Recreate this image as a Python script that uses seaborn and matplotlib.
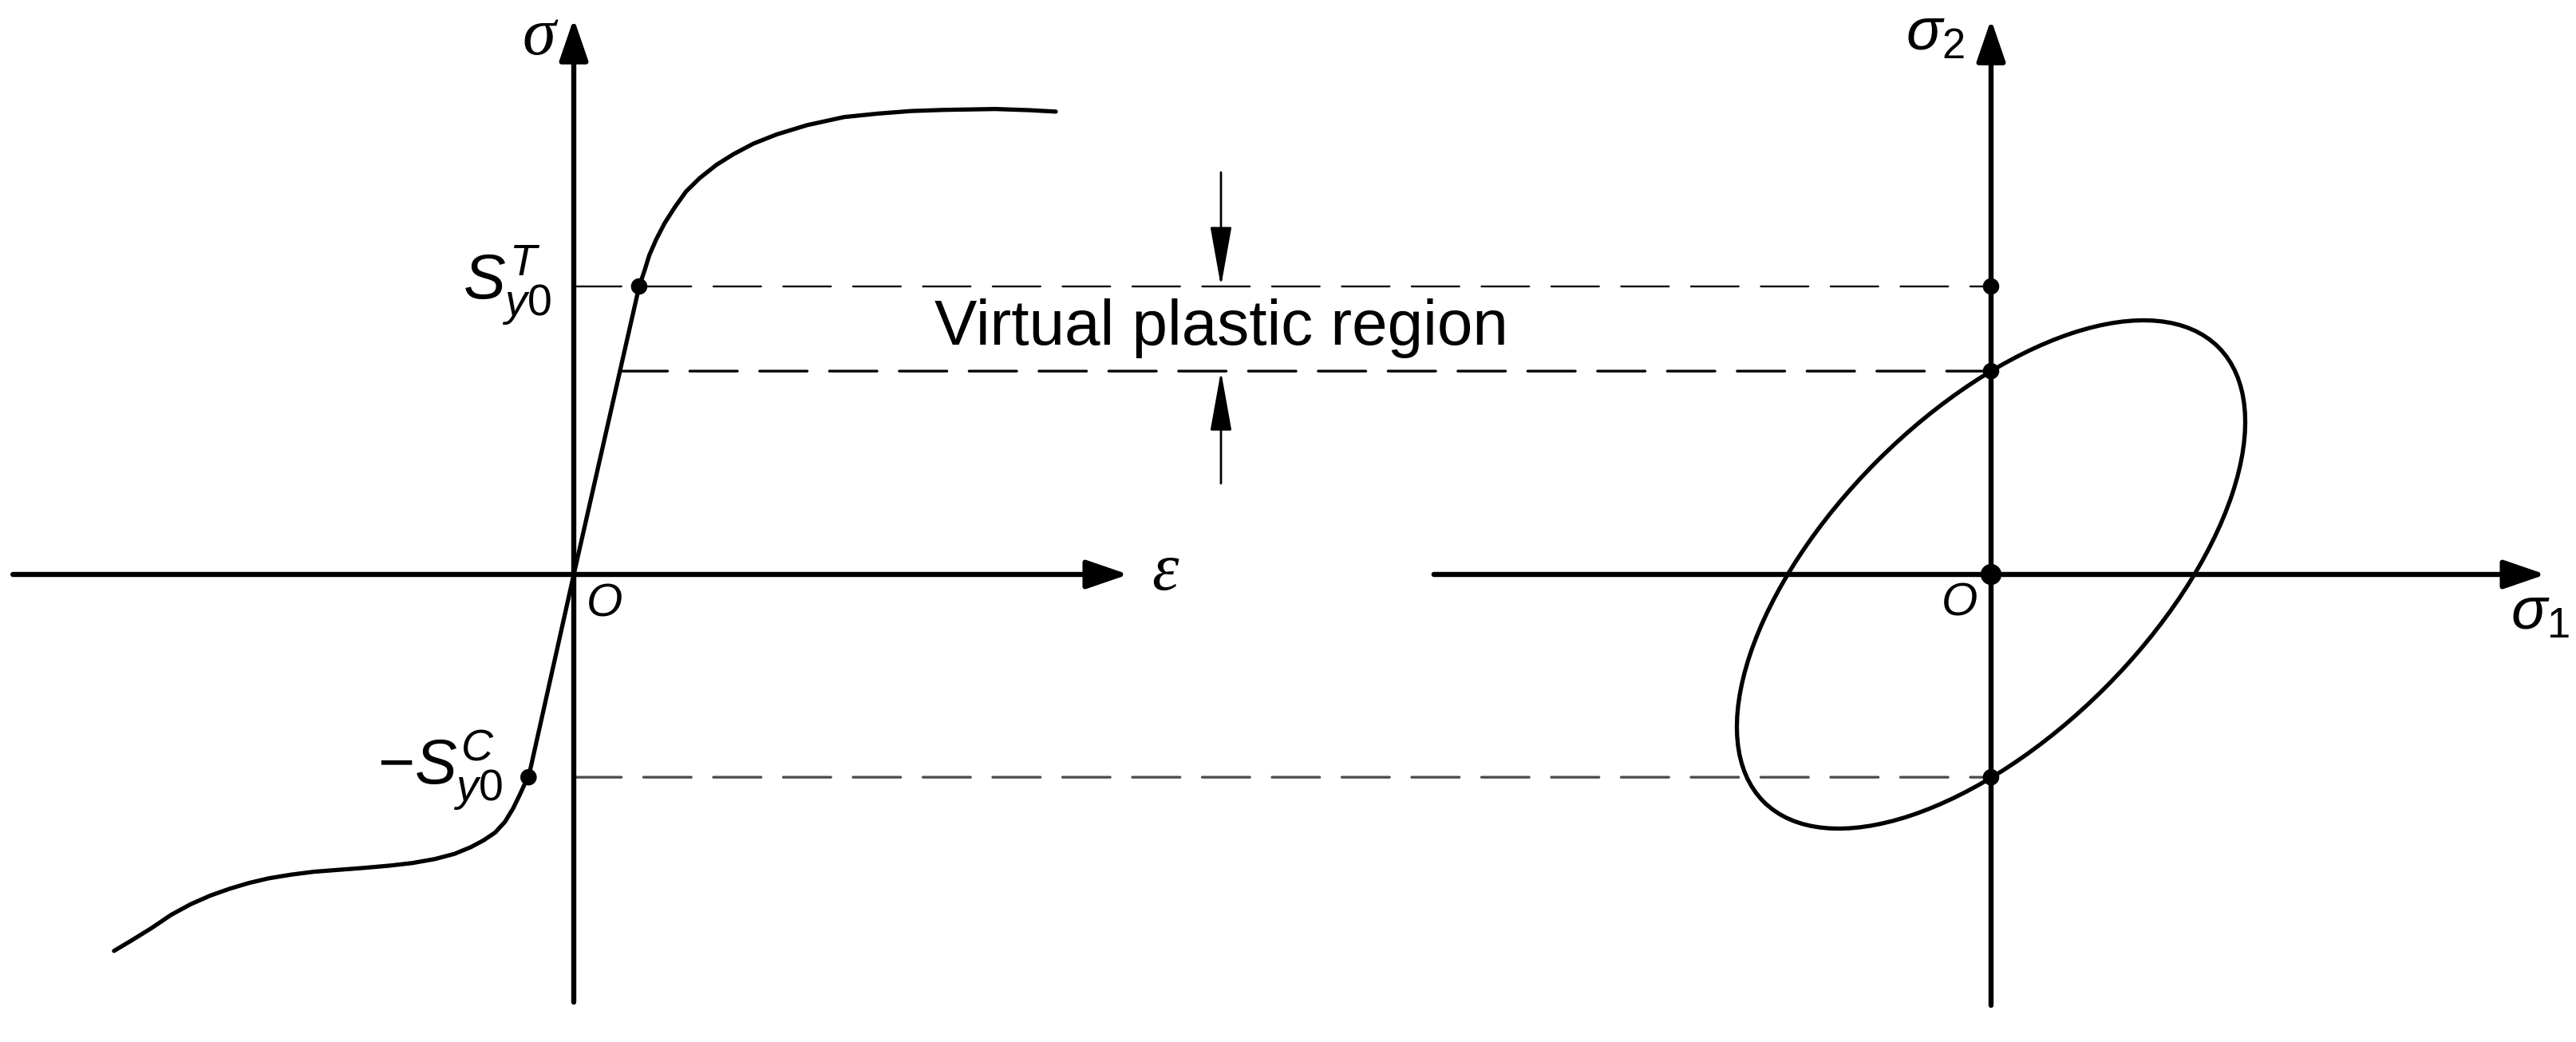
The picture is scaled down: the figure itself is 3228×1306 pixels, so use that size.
import matplotlib
matplotlib.use("Agg")
from matplotlib import pyplot as plt
from matplotlib.patches import Ellipse, ConnectionPatch
import seaborn as sns
import pandas as pd
import numpy as np

# jednotky: 1.0 = mez kluzu v tahu S_y0^T (stejne meritko na obou osach)

# tahova vetev krivky napeti-pretvoreni
eps_tension = [0.0, 0.227, 0.245, 0.262, 0.286, 0.315, 0.350, 0.390, 0.437,
               0.495, 0.554, 0.624, 0.705, 0.810, 0.938, 1.055, 1.171, 1.288,
               1.463, 1.580, 1.673]
sig_tension = [0.0, 1.000, 1.053, 1.108, 1.163, 1.219, 1.274, 1.330, 1.376,
               1.422, 1.459, 1.496, 1.528, 1.560, 1.588, 1.600, 1.609, 1.613,
               1.616, 1.612, 1.607]

# tlakova vetev
eps_compr = [0.0, -0.157, -0.171, -0.188, -0.211, -0.239, -0.273, -0.313,
             -0.358, -0.414, -0.482, -0.561, -0.640, -0.731, -0.810, -0.901,
             -0.980, -1.059, -1.127, -1.194, -1.262, -1.330, -1.398, -1.466,
             -1.534, -1.596]
sig_compr = [0.0, -0.704, -0.729, -0.766, -0.813, -0.859, -0.896, -0.923,
             -0.947, -0.970, -0.988, -1.002, -1.011, -1.019, -1.025, -1.032,
             -1.042, -1.055, -1.071, -1.091, -1.115, -1.145, -1.182, -1.228,
             -1.270, -1.307]

S_T = 1.0      # mez kluzu v tahu
S_C = 0.704    # mez kluzu v tlaku
S_V = 0.706    # virtualni mez (elipsa protina osu sigma2)

ellipse_semi = [1.116, 0.558]  # poloosy elipsy
ellipse_angle = 45

# ----- rozmery obrazku (px) -----
W, H, U = 3228, 1306, 361.0     # U = px na jednotku
split = 1700                    # hranice mezi levym a pravym grafem
oxL, oxR, oy = 719, 2495, 720   # pocatky souradnic

sns.set_style("white")
plt.rcParams["font.family"] = ["Liberation Sans", "DejaVu Sans"]
plt.rcParams["text.color"] = "black"
plt.rcParams["mathtext.fontset"] = "custom"
plt.rcParams["mathtext.rm"] = "Liberation Sans"
plt.rcParams["mathtext.it"] = "Liberation Sans:italic"
plt.rcParams["mathtext.bf"] = "Liberation Sans:bold"
plt.rcParams["lines.scale_dashes"] = False
plt.rcParams["lines.solid_capstyle"] = "round"
plt.rcParams["lines.solid_joinstyle"] = "round"

fig = plt.figure(figsize=(W / 100, H / 100), dpi=100)
axL = fig.add_axes([0, 0, split / W, 1])
axR = fig.add_axes([split / W, 0, (W - split) / W, 1])
axL.set_xlim(-oxL / U, (split - oxL) / U)
axR.set_xlim((split - oxR) / U, (W - oxR) / U)
for ax in (axL, axR):
    ax.set_ylim(-(H - oy) / U, oy / U)
    ax.set_axis_off()

axis_style = dict(arrowstyle="-|>,head_length=1.6,head_width=0.55", lw=4.6,
                  color="black", shrinkA=0, shrinkB=0, mutation_scale=20)


def draw_axis(ax, x0, x1, y0, y1):
    ax.annotate("", xy=(x1, 0), xytext=(x0, 0), arrowprops=axis_style)
    ax.annotate("", xy=(0, y1), xytext=(0, y0), arrowprops=axis_style)


draw_axis(axL, -1.947, 1.925, -1.485, 1.930)
draw_axis(axR, -1.934, 1.925, -1.496, 1.927)

# ----- levy graf: krivka napeti-pretvoreni -----
sns.lineplot(x=eps_tension, y=sig_tension, sort=False, estimator=None,
             color="black", lw=3.8, ax=axL)
sns.lineplot(x=eps_compr, y=sig_compr, sort=False, estimator=None,
             color="black", lw=3.8, ax=axL)

yield_pts = pd.DataFrame({"eps": [eps_tension[1], eps_compr[1]],
                          "sig": [sig_tension[1], sig_compr[1]]})
sns.scatterplot(data=yield_pts, x="eps", y="sig", s=220, color="black",
                edgecolor="none", ax=axL, zorder=5)

# ----- pravy graf: elipsa -----
axR.add_patch(Ellipse((0, 0), 2 * ellipse_semi[0], 2 * ellipse_semi[1],
                      angle=ellipse_angle, fill=False, lw=3.8,
                      color="black"))
axis_pts = pd.DataFrame({"s1": [0, 0, 0, 0], "s2": [S_T, S_V, 0, -S_C],
                         "size": [220, 220, 360, 220]})
sns.scatterplot(data=axis_pts, x="s1", y="s2", size="size",
                sizes=(220, 360), color="black", edgecolor="none",
                legend=False, ax=axR, zorder=5)

# ----- prerusovane cary mezi grafy -----
eps_v = np.interp(S_V, sig_tension[:2], eps_tension[:2])
dashes = [(0, S_T, 1.7, "black"), (eps_v, S_V, 2.4, "black"),
          (0, -S_C, 2.4, "#4d4d4d")]
for x0, y, lw, col in dashes:
    con = ConnectionPatch(xyA=(x0, y), coordsA=axL.transData,
                          xyB=(0, y), coordsB=axR.transData,
                          linestyle=(0, (43, 20)), lw=lw, color=col,
                          zorder=-1)
    fig.add_artist(con)

# sipky virtualni oblasti
xa = (1530 - oxL) / U
thin = dict(arrowstyle="-|>,head_length=2.35,head_width=0.42", lw=2,
            color="black", shrinkA=0, shrinkB=0, mutation_scale=20)
axL.annotate("", xy=(xa, S_T), xytext=(xa, 1.396), arrowprops=thin)
axL.annotate("", xy=(xa, S_V), xytext=(xa, 0.316), arrowprops=thin)
axL.text(xa, 0.798, "Virtual plastic region", fontsize=57.6,
         ha="center", va="baseline")

# ----- popisky -----
greek = dict(family="Liberation Serif", style="italic", fontsize=61,
             ha="center", va="center")
axL.text(-0.122, 1.864, "σ", **greek)
axL.text(2.053, 0.003, "ε", **greek)
axL.text(0.108, -0.105, "O", style="italic", fontsize=42,
         ha="center", va="center")
axL.text(-0.078, 0.955, r"$S_{\mathit{y0}}^{T}$", fontsize=57,
         ha="right", va="baseline")
axL.text(-0.245, -0.728, r"−$S_{\mathit{y0}}^{C}$", fontsize=57,
         ha="right", va="baseline")

axR.text(-0.091, 1.823, r"$\sigma_2$", fontsize=54, ha="right",
         va="baseline")
axR.text(1.803, -0.188, r"$\sigma_1$", fontsize=54, ha="left",
         va="baseline")
axR.text(-0.108, -0.100, "O", style="italic", fontsize=42,
         ha="center", va="center")

fig.savefig("out.png", dpi=100)
